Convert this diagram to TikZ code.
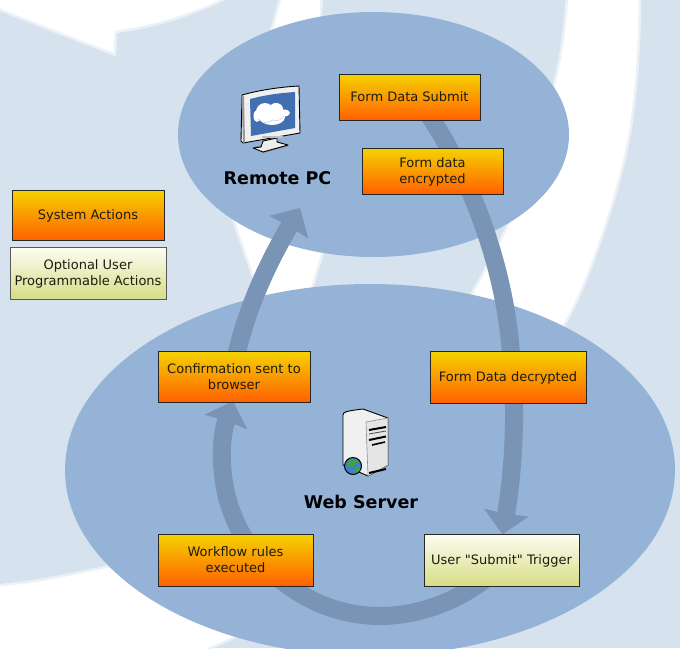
\documentclass[tikz,border=0pt]{standalone}
\usepackage{fontspec}
\setmainfont{DejaVu Sans}[Ligatures=TeXOff]
\usetikzlibrary{arrows.meta,backgrounds}
\definecolor{bgblue}{HTML}{D6E3EE}
\definecolor{softedge}{HTML}{EBF1F6}
\definecolor{blob}{HTML}{95B3D7}
\definecolor{flow}{HTML}{7A94B5}
\definecolor{orgtop}{HTML}{F5D300}
\definecolor{orgbot}{HTML}{FF6000}
\definecolor{opttop}{HTML}{FDFDF3}
\definecolor{optbot}{HTML}{D6DD85}
\definecolor{inktext}{HTML}{1C1C10}
\definecolor{screenblue}{HTML}{426FB1}
\definecolor{globeblue}{HTML}{3F7EC8}
\definecolor{globegreen}{HTML}{3FA04A}
\tikzset{
  x=1pt,y=-1pt,
  actionbox/.style={draw=black!85,line width=1pt,inner sep=0pt,outer sep=0pt,align=center,
    font=\fontsize{13}{16}\selectfont,text=inktext,anchor=north west,text depth=0pt},
  sysbox/.style={actionbox,top color=orgtop,bottom color=orgbot},
  optbox/.style={actionbox,top color=opttop,bottom color=optbot},
  title/.style={font=\fontsize{17.5}{20}\selectfont\bfseries,text=black,inner sep=0pt},
  swoosh/.style={fill=white,draw=softedge,line width=2.5pt},
  flowarrow/.style={draw=flow,line width=18pt,
    -{Stealth[length=22pt,width=44pt,inset=1pt]}},
  iconline/.style={draw=black,line width=0.9pt,line join=round}
}
\begin{document}
\begin{tikzpicture}
\useasboundingbox (0,0) rectangle (680,648);
% --- nodes
\node[sysbox,minimum width=141pt,minimum height=46pt] (submit) at (339,74) {Form Data Submit};
\node[sysbox,minimum width=141pt,minimum height=46pt] (encrypted) at (362,148) {Form data\\encrypted};
\node[sysbox,minimum width=152pt,minimum height=50pt] (legendsys) at (12,190) {System Actions};
\node[optbox,draw=black!65,minimum width=156pt,minimum height=52pt] (legendopt) at (10,247) {Optional User\\Programmable Actions};
\node[sysbox,minimum width=152pt,minimum height=51pt] (confirm) at (158,351) {Confirmation sent to\\browser};
\node[sysbox,minimum width=156pt,minimum height=52pt] (decrypted) at (430,351) {Form Data decrypted};
\node[sysbox,minimum width=155pt,minimum height=52pt] (workflow) at (158,534) {Workflow rules\\executed};
\node[optbox,minimum width=155pt,minimum height=52pt] (trigger) at (424,534) {User "Submit" Trigger};
\node[title] (pclabel) at (277.5,178.5) {Remote PC};
\node[title] (serverlabel) at (361,501.5) {Web Server};
\coordinate (tipA) at (502.5,534.5);
\coordinate (tipB) at (233,401);
\coordinate (tipC) at (300,208);
\begin{scope}[on background layer]
  \fill[bgblue] (0,0) rectangle (680,648);
  % white swooshes
  \path[swoosh] (-5,-3) -- (0,10) -- (115,55) -- (116,32) .. controls (160,26) and (200,12) .. (228,-3) -- cycle;
  \path[swoosh] (281,-5) -- (272,28) -- (233,220) -- (253,277) -- (275,330) -- (305,320) -- (313,285) -- (323,253) -- (321,15) -- (322,-5) -- cycle;
  \path[swoosh] (567,-5) .. controls (565,30) and (560,60) .. (555,80) .. controls (545,130) and (530,180) .. (510,220) .. controls (498,245) and (485,270) .. (472,293) -- (440,340) -- (525,400) -- (567,320) .. controls (590,280) and (620,190) .. (630,133) .. controls (637,90) and (640,40) .. (640,-5) -- cycle;
  \path[swoosh] (-5,585.5) .. controls (40,582) and (80,572) .. (115,565) -- (240,635) -- (200,653) -- (-5,653) -- cycle;
  % regions
  \fill[blob] (373.5,134.5) ellipse [x radius=195.5,y radius=122.5];
  \fill[blob] (370,470) ellipse [x radius=305,y radius=186];
  % flows
  \draw[flowarrow] ([xshift=16pt,yshift=10pt]submit.south) .. controls (470,175) and (508,270) .. (512,370)
     .. controls (517,420) and (512,480) .. (tipA);
  \draw[flowarrow] ([xshift=-10pt,yshift=12pt]trigger.south) .. controls (455,605) and (412,616) .. (380,616)
     .. controls (312,616) and (252,570) .. (231,510)
     .. controls (222,487) and (218,445) .. (tipB);
  \draw[flowarrow] ([xshift=1pt,yshift=-10pt]confirm.north) .. controls (248,300) and (275,251) .. (tipC);
\end{scope}
% --- monitor icon
\fill[black!45,line join=round] (254,147) -- (263,153) -- (289,146) -- (278,141) -- cycle;
\path[iconline,fill=white!93!black] (263,141) -- (261,147) -- (253,148) -- (263,152) -- (288,145) -- (277,142) -- (277,138) -- cycle;
\path[iconline,fill=white!94!black] (242,95) .. controls (260,90) and (280,87) .. (299,86) -- (300,133) -- (243,143) -- (241,141) -- cycle;
\fill[black!40] (241.5,96) -- (244,96) -- (245,142) -- (243,143) -- cycle;
\fill[black!25] (262,136) rectangle (283,137.5);
\fill[screenblue] (250,99) .. controls (265,95) and (280,93) .. (295,92) -- (295,128) -- (251,136) -- cycle;
\fill[white] (257,116) ellipse [x radius=3.5,y radius=6];
\fill[white] (265,112) ellipse [x radius=9,y radius=9];
\fill[white] (276,109) ellipse [x radius=7,y radius=6];
\fill[white] (284,113) ellipse [x radius=6,y radius=3.5];
\fill[white] (272,117) ellipse [x radius=13,y radius=8];
\draw[blue!20!white,line width=0.6pt] (258,119) .. controls (263,124) and (268,123) .. (273,120) .. controls (278,122) and (282,119) .. (284,116);
% --- server icon
\path[iconline,fill=white!94!black] (343,415) .. controls (343,412) and (346,411) .. (363,409) -- (388,418) -- (388,465) -- (368,476) -- (343,465) -- cycle;
\path[draw=black!45,line width=0.6pt,fill=white!90!black] (366,422) -- (388,418) -- (388,465) -- (368,476) -- cycle;
\draw[line width=2pt] (369,430) -- (386,427);
\draw[line width=2pt] (369,440) -- (386,436.5);
\draw[line width=1.6pt] (372,445) -- (385,442);
\draw[line width=2pt] (369,473) -- (386,469);
\draw[black!70,line width=0.8pt] (369,434) -- (386,431);
\path[draw=black,line width=1pt,fill=globeblue] (353,466) circle [radius=8.5];
\fill[globegreen] (348,461) .. controls (352,458) and (358,459) .. (359,462) .. controls (356,465) and (353,464) .. (352,468) .. controls (349,468) and (346,465) .. (348,461) -- cycle;
\fill[globegreen] (355,467) .. controls (358,466) and (361,467) .. (360,470) .. controls (358,473) and (355,473) .. (354,472) -- cycle;
\end{tikzpicture}
\end{document}
